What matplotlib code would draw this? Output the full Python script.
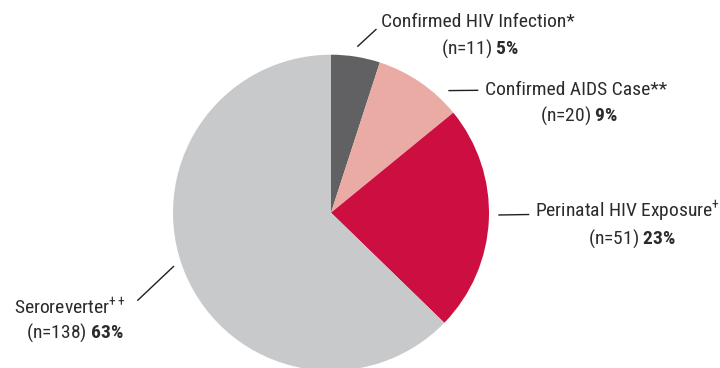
import matplotlib
matplotlib.use("Agg")
import matplotlib.pyplot as plt

categories = ["Confirmed HIV Infection*", "Confirmed AIDS Case**",
              "Perinatal HIV Exposure$^{\\mathrm{+}}$", "Seroreverter$^{\\mathrm{++}}$"]
counts = [11, 20, 51, 138]
percents = [5, 9, 23, 63]
colors = ["#616163", "#ebaba5", "#cc0e41", "#c8c9cb"]

FONT = ["Roboto Condensed", "DejaVu Sans"]
plt.rcParams["font.family"] = FONT
plt.rcParams["mathtext.fontset"] = "custom"
plt.rcParams["mathtext.rm"] = "Roboto Condensed"
plt.rcParams["mathtext.bf"] = "Roboto Condensed:bold"
plt.rcParams["mathtext.it"] = "Roboto Condensed:italic"

W, H = 720, 368
fig = plt.figure(figsize=(7.2, 3.68), dpi=100)
ax = fig.add_axes([0, 0, 1, 1])

cx, cy, r = 331, H - 212.7, 158
ax.pie(counts, colors=colors, startangle=90, counterclock=False,
       center=(cx, cy), radius=r, wedgeprops=dict(linewidth=0))
ax.set_xlim(0, W)
ax.set_ylim(0, H)
ax.set_aspect("equal")
ax.axis("off")

tc = "#2b2b2b"
fs = 14
# (line1 center x, baseline y px), (line2 center x, baseline y px), leader line px
layout = [
    ((477.8, 27.3), (480.3, 53.3), ((357.3, 46.7), (376.5, 29.0))),
    ((576.0, 95.0), (579.0, 120.5), ((448.3, 90.6), (478.3, 90.3))),
    ((627.0, 217.3), (631.7, 243.3), ((498.3, 215.0), (529.3, 214.5))),
    ((70.0, 314.0), (75.0, 337.3), ((137.3, 300.7), (174.0, 266.0))),
]
for cat, n, p, ((x1, y1), (x2, y2), (a, b)) in zip(categories, counts, percents, layout):
    ax.text(x1, H - y1, cat, ha="center", va="baseline", fontsize=fs, color=tc)
    ax.text(x2, H - y2, f"(n={n}) $\\mathbf{{{p}\\%}}$", ha="center", va="baseline",
            fontsize=fs, color=tc)
    ax.plot([a[0], b[0]], [H - a[1], H - b[1]], color="#231f20", lw=1.0,
            solid_capstyle="butt")

fig.savefig("out.png", dpi=100)
